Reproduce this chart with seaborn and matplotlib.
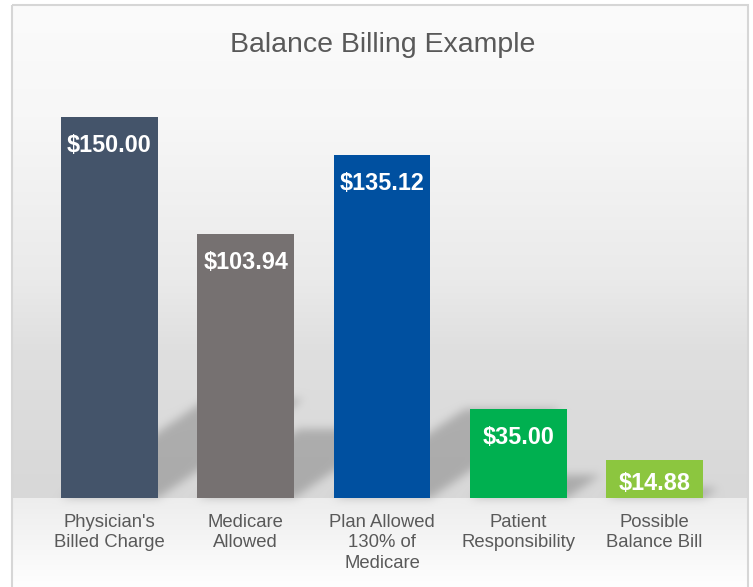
import numpy as np
import pandas as pd
import matplotlib
matplotlib.use("Agg")
import matplotlib.pyplot as plt
import seaborn as sns
from matplotlib.path import Path
from matplotlib.patches import Rectangle

# ---- data ----
categories = ["Physician's\nBilled Charge", "Medicare\nAllowed",
              "Plan Allowed\n130% of\nMedicare", "Patient\nResponsibility",
              "Possible\nBalance Bill"]
values = [150.00, 103.94, 135.12, 35.00, 14.88]
value_labels = ["$150.00", "$103.94", "$135.12", "$35.00", "$14.88"]
bar_colors = ["#44546a", "#767171", "#0050a0", "#00b050", "#8cc63f"]
title = "Balance Billing Example"

W, H = 753, 587
sns.set_theme(style="white")
plt.rcParams['font.family'] = ['Liberation Sans', 'DejaVu Sans']

fig = plt.figure(figsize=(W / 100, H / 100), dpi=100)
fig.patch.set_facecolor("white")
bg_ax = fig.add_axes([0, 0, 1, 1], zorder=0)
bg_ax.axis('off')

ax = fig.add_axes([41.25 / W, 89 / H, 681.5 / W, 406.4 / H], zorder=1)
ax.patch.set_alpha(0)

df = pd.DataFrame({"category": categories, "value": values})
sns.barplot(data=df, x="category", y="value", hue="category",
            palette=bar_colors, legend=False, width=0.71, saturation=1,
            linewidth=0, ax=ax)
ax.set_xlim(-0.5, len(categories) - 0.5)
ax.set_ylim(0, 160)
for s in ax.spines.values():
    s.set_visible(False)
ax.set_yticks([])
ax.set_xlabel("")
ax.set_ylabel("")
ax.tick_params(axis='x', length=0, pad=11.5, labelsize=13.3, labelcolor="#595959")
for t in ax.get_xticklabels():
    t.set_linespacing(1.27)

# value labels inside bars
px_per_unit = 406.4 / 160
for i, (v, lab) in enumerate(zip(values, value_labels)):
    off = min(26.5 / px_per_unit, 0.57 * v)
    ax.annotate(lab, xy=(i, v - off), xytext=(0, -8.35), textcoords='offset pixels',
                ha='center', va='baseline', color='white', fontsize=16.8,
                fontweight='bold')

fig.text(382.5 / W, 1 - 52 / H, title, ha='center', va='baseline',
         fontsize=20.5, color='#595959')

# ---- background: wall/floor gradient with perspective shadows ----
fig.canvas.draw()
rows = np.arange(H) + 0.5
wall = np.interp(rows, [5, 117, 280, 350, 450, 498], [251, 247, 234, 223, 218, 216])
floor = np.interp(rows, [498, 530, 570, 587], [237, 243, 251, 254])
base_row = H - ax.transData.transform((0, 0))[1]
col = np.where(rows < base_row, wall, floor)
img = np.repeat(col[:, None], W, axis=1)

yy, xx = np.mgrid[0:H, 0:W]
pts = np.column_stack([xx.ravel() + 0.5, yy.ravel() + 0.5])
mask = np.zeros(H * W)
for p in ax.patches:
    bb = p.get_window_extent()
    x0, x1 = bb.x0, bb.x1
    yb = H - bb.y0
    h = bb.height
    poly = [(x0, yb), (x1, yb), (x1 + 0.383 * h, yb - 0.26 * h),
            (x0 + 0.383 * h, yb - 0.26 * h)]
    mask = np.maximum(mask, Path(poly).contains_points(pts).astype(float))
mask = mask.reshape(H, W)


def blur(a, s):
    r = int(3 * s)
    k = np.exp(-0.5 * (np.arange(-r, r + 1) / s) ** 2)
    k /= k.sum()
    a = np.apply_along_axis(lambda m: np.convolve(m, k, mode='same'), 0, a)
    a = np.apply_along_axis(lambda m: np.convolve(m, k, mode='same'), 1, a)
    return a


mask = blur(mask, 4.5)
img = img * (1 - 0.21 * mask)
# outside border -> white
img[:5, :] = 255
img[:, :12] = 255
img[:, 748:] = 255
img = np.clip(img, 0, 255) / 255.0
rgb = np.dstack([img, img, img])
bg_ax.imshow(rgb, extent=(0, W, H, 0), aspect='auto', interpolation='nearest')
bg_ax.set_xlim(0, W)
bg_ax.set_ylim(H, 0)
bg_ax.add_patch(Rectangle((12, 5), 736, 620, fill=False, edgecolor='#d6d6d6', lw=1.5))

fig.savefig("out.png", dpi=100)
